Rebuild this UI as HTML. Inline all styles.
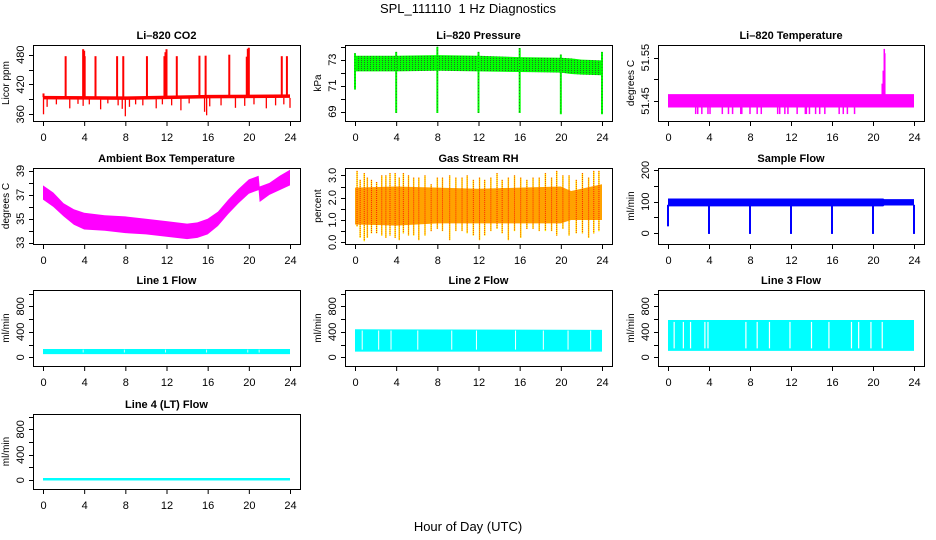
<!DOCTYPE html>
<html><head><meta charset="utf-8"><title>SPL_111110 1 Hz Diagnostics</title>
<style>
html,body{margin:0;padding:0;background:#fff;}
svg{display:block;font-family:"Liberation Sans",Arial,sans-serif;}
</style></head>
<body>
<svg id="chart" width="936" height="540" viewBox="0 0 936 540">
<defs>
<pattern id="pdots" width="3" height="2" patternUnits="userSpaceOnUse"><rect width="3" height="2" fill="#00ff00"/><rect x="1" y="0" width="1" height="1" fill="#2a6a2a"/></pattern>
</defs>
<text x="468" y="13" text-anchor="middle" font-size="13">SPL_111110&#160;&#160;1 Hz Diagnostics</text>
<text x="468" y="531" text-anchor="middle" font-size="13">Hour of Day (UTC)</text>
</svg>
<script>
// ---- data ----
const xTicks = [0,4,8,12,16,20,24];
// CO2
const co2BandT = [0,8,16,24];
const co2BandLo = [390,389,392,393];
const co2BandHi = [397,396,399,400];
const co2UpT = [0.05,2.2,3.9,4.0,4.05,5.1,7.2,7.8,10.1,11.8,11.9,12.0,13.0,15.2,15.8,18.1,19.8,19.9,20.0,23.2,23.7];
const co2UpV = [402,477,491,488,477,477,477,477,477,477,485,491,477,478,478,480,476,492,494,477,477];
const co2DnT = [0.05,0.4,1.3,2.6,3.4,3.9,4.5,5.6,6.3,7.3,7.7,8.0,8.4,9.0,9.7,11.0,11.6,12.5,13.4,14.2,15.7,15.9,16.2,17.3,18.7,19.6,20.5,21.7,22.6,23.4,24.0];
const co2DnV = [360,375,380,372,381,377,380,370,382,378,371,356,375,380,378,372,380,378,368,382,365,358,376,378,373,377,380,372,378,380,373];
// Pressure
const prBandT = [0,4,8,12,16,20,21,22,24];
const prBandHi = [73.3,73.3,73.35,73.3,73.2,73.15,73.1,73.0,72.95];
const prBandLo = [72.1,72.1,72.15,72.1,72.05,72.0,71.9,71.85,71.8];
const prDipT = [0,4,8,12,16,20,24];
const prDipLo = [70.7,68.9,68.9,68.9,68.9,68.8,68.8];
const prDipHi = [73.5,73.6,74.0,73.6,73.9,73.4,73.6];
// Li-820 temperature
const tmBandT = [0,24];
const tmBandLo = [51.435,51.435];
const tmBandHi = [51.466,51.466];
const tmDipT = [2.7,2.9,3.3,3.9,4.1,5.3,5.9,6.3,7.1,7.2,8.0,8.7,9.1,10.7,10.9,11.4,11.7,12.6,13.4,13.5,13.8,14.4,14.8,15.3,16.7,17.1,17.5,18.2];
const tmDipV = 51.42;
const tmSpikeT = [20.9,21.0,21.1,21.15];
const tmSpikeV = [51.49,51.52,51.57,51.56];
// Ambient box temperature
const amT = [0,1,2,3,4,6,8,10,12,14,15,16,17,18,19,20,20.95,21.05,22,23,24];
const amHi = [37.8,37.2,36.3,35.8,35.5,35.3,35.2,35.0,34.8,34.6,34.7,35.0,35.6,36.6,37.5,38.3,38.6,37.7,38.0,38.6,39.1];
const amLo = [36.6,36.0,35.2,34.5,34.1,34.0,33.8,33.7,33.5,33.3,33.4,33.7,34.4,35.4,36.3,37.1,37.4,36.4,37.0,37.4,37.8];
// Gas stream RH
const rhBandT = [0,4,8,12,16,20,21,24];
const rhBandHi = [2.45,2.5,2.45,2.4,2.45,2.5,2.3,2.6];
const rhBandLo = [0.8,0.75,0.85,0.85,0.85,0.85,1.0,1.0];
const rhSpT = [0.2,0.5,0.9,1.2,1.6,2.1,2.6,3.0,3.4,3.9,4.3,4.7,5.2,5.7,6.2,6.8,7.4,8.0,8.5,9.2,9.8,10.4,10.9,11.5,12.1,12.6,13.2,13.8,14.3,14.9,15.5,16.1,16.7,17.3,17.9,18.5,19.1,19.6,20.2,20.8,21.5,22.1,22.7,23.2,23.7];
const rhSpHi = [3.2,2.8,3.1,2.9,2.8,2.7,3.0,3.0,3.1,3.1,2.9,3.1,3.0,2.9,2.9,3.0,2.6,2.9,2.9,3.0,2.9,2.9,3.0,2.8,2.9,2.8,2.9,3.1,2.8,2.9,3.0,2.9,2.8,2.9,2.9,3.1,2.9,3.2,3.0,3.0,2.8,3.1,2.9,3.2,3.2];
const rhSpLo = [0.7,0.2,0.05,0.2,0.4,0.4,0.3,0.2,0.3,0.2,0.1,0.4,0.3,0.3,0.1,0.3,0.5,0.6,0.5,0.1,0.5,0.5,0.4,0.3,0.1,0.3,0.5,0.6,0.4,0.1,0.5,0.2,0.6,0.6,0.5,0.5,0.5,0.3,0.6,0.3,0.4,0.4,0.2,0.4,0.5];
// Sample flow
const sfBandT = [0,21,21.1,24];
const sfBandHi = [110,110,108,108];
const sfBandLo = [85,85,88,88];
const sfDipT = [0,4,8,12,16,20,24];
const sfDipV = [22,-2,-2,-2,-2,-2,-2];
// Line flows
const l1BandT = [0,24]; const l1Lo = [50,50]; const l1Hi = [130,130];
const l1Gaps = [3.9,7.9,11.9,15.9,19.9,21.0];
const l2BandT = [0,24]; const l2Lo = [90,90]; const l2Hi = [440,430];
const l2Gaps = [0.7,2.3,3.5,6.1,9.4,11.8,15.6,18.3,20.7,22.9];
const l3BandT = [0,24]; const l3Lo = [100,100]; const l3Hi = [585,585];
const l3Gaps = [0.6,1.5,2.2,3.6,3.9,7.6,8.7,9.9,11.9,14.0,15.7,17.9,18.6,19.8,20.9];
const l4BandT = [0,24]; const l4Lo = [-5,-5]; const l4Hi = [35,35];

// ---- drawing ----
const NS = "http://www.w3.org/2000/svg";
const svg = document.getElementById('chart');
function mk(tag, attrs, parent){ const e=document.createElementNS(NS,tag); for(const k in attrs) e.setAttribute(k,attrs[k]); (parent||svg).appendChild(e); return e; }

function makePanel(name, title, ylab, box, ylim, yTicks, yLabels){
  const g = mk('g',{});
  
  
  const [x0,y0,x1,y1] = box;
  const sx = t => x0 + 10 + t/24*(x1-x0-20);
  const sy = v => y0 + (ylim[0]-v)/(ylim[0]-ylim[1])*(y1-y0);
  const plot = mk('g',{},g);
  
  
  const fr = mk('rect',{x:x0+0.5,y:y0+0.5,width:x1-x0,height:y1-y0,fill:'none',stroke:'#000','stroke-width':1},g);
  
  
  const tt = mk('text',{x:(x0+x1)/2,y:y0-6,'text-anchor':'middle','font-size':11,'font-weight':'bold'},g);
  tt.textContent = title;
  
  
  const xa = mk('g',{},g);
  
  
  mk('line',{x1:sx(0),x2:sx(24),y1:y1+0.5,y2:y1+0.5,stroke:'#000'},xa);
  xTicks.forEach(t=>{
    mk('line',{x1:sx(t)+0.5,x2:sx(t)+0.5,y1:y1,y2:y1+5,stroke:'#000'},xa);
    const l = mk('text',{x:sx(t)+0.5,y:y1+20,'text-anchor':'middle','font-size':11},xa);
    l.textContent = t;
    
    
  });
  const ya = mk('g',{},g);
  
  
  mk('line',{x1:x0+0.5,x2:x0+0.5,y1:sy(yTicks[0]),y2:sy(yTicks[yTicks.length-1]),stroke:'#000'},ya);
  yTicks.forEach(v=>{ mk('line',{x1:x0-4,x2:x0,y1:Math.round(sy(v))+0.5,y2:Math.round(sy(v))+0.5,stroke:'#000'},ya); });
  yLabels.forEach(v=>{
    const yy = sy(parseFloat(v));
    const l = mk('text',{x:x0-9,y:yy,'text-anchor':'middle','font-size':11,transform:`rotate(-90 ${x0-9} ${yy})`},ya);
    l.textContent = v;
    
    
  });
  const yt = mk('text',{x:x0-24,y:(y0+y1)/2,'text-anchor':'middle','font-size':10,transform:`rotate(-90 ${x0-24} ${(y0+y1)/2})`},g);
  yt.textContent = ylab;
  
  
  return {plot, sx, sy};
}
function band(p, T, lo, hi, fill, name){
  let d = 'M' + T.map((t,i)=>p.sx(t)+','+p.sy(hi[i])).join(' L');
  for(let i=T.length-1;i>=0;i--) d += ' L'+p.sx(T[i])+','+p.sy(lo[i]);
  const e = mk('path',{d:d+'Z',fill:fill},p.plot);
  
  
  return e;
}
function vline(p, t, a, b, color, w, name, dash){
  const e = mk('line',{x1:p.sx(t),x2:p.sx(t),y1:p.sy(a),y2:p.sy(b),stroke:color,'stroke-width':w},p.plot);
  if(dash) e.setAttribute('stroke-dasharray', dash);
  
  
}
const C1=[33,300], C2=[345,612], C3=[658,924];
const R1=[45,121], R2=[168,244], R3=[290,366], R4=[414,489];

// CO2
let p = makePanel('co2','Li\u2013820 CO2','Licor ppm',[C1[0],R1[0],C1[1],R1[1]],[499.5,346.5],[360,390,420,450,480],['360','420','480']);
band(p,co2BandT,co2BandLo,co2BandHi,'#ff0000','co2-band');
co2UpT.forEach((t,i)=>vline(p,t,394,co2UpV[i],'#ff0000',2,'co2-spike-up'));
co2DnT.forEach((t,i)=>vline(p,t,393,co2DnV[i],'#ff0000',1.3,'co2-spike-down'));

// Pressure
p = makePanel('pressure','Li\u2013820 Pressure','kPa',[C2[0],R1[0],C2[1],R1[1]],[74.13,68.28],[69,70,71,72,73,74],['69','71','73']);
band(p,prBandT,prBandLo,prBandHi,'url(#pdots)','pressure-band');
prDipT.forEach((t,i)=>{vline(p,t,prDipHi[i],prDipLo[i],'#00ff00',2,'pressure-dip'); vline(p,t,prDipHi[i],prDipLo[i],'#224422',0.6,'pressure-dip-dots','1,2');});

// Li-820 Temperature
p = makePanel('li820-temp','Li\u2013820 Temperature','degrees C',[C3[0],R1[0],C3[1],R1[1]],[51.579,51.404],[51.45,51.50,51.55],['51.45','51.55']);
band(p,tmBandT,tmBandLo,tmBandHi,'#ff00ff','temp-band');
tmDipT.forEach(t=>vline(p,t,51.44,tmDipV,'#ff00ff',1.5,'temp-dip'));
tmSpikeT.forEach((t,i)=>vline(p,t,51.45,tmSpikeV[i],'#ff00ff',1.5,'temp-spike'));

// Ambient
p = makePanel('ambient-temp','Ambient Box Temperature','degrees C',[C1[0],R2[0],C1[1],R2[1]],[39.25,32.89],[33,34,35,36,37,38,39],['33','35','37','39']);
band(p,amT,amLo,amHi,'#ff00ff','ambient-band');

// RH
p = makePanel('gas-rh','Gas Stream RH','percent',[C2[0],R2[0],C2[1],R2[1]],[3.33,-0.076],[0,0.5,1,1.5,2,2.5,3],['0.0','1.0','2.0','3.0']);
rhSpT.forEach((t,i)=>{vline(p,t,rhSpHi[i],rhSpLo[i],'#ffff00',1.5,'rh-spike');});
band(p,rhBandT,rhBandLo,rhBandHi,'#ffa200','rh-band');
rhSpT.forEach((t,i)=>{vline(p,t,rhSpHi[i],rhSpLo[i],'#ff2000',1,'rh-spike-red','1,1');});

// Sample flow
p = makePanel('sample-flow','Sample Flow','ml/min',[C3[0],R2[0],C3[1],R2[1]],[206.3,-33.8],[0,50,100,150,200],['0','100','200']);
band(p,sfBandT,sfBandLo,sfBandHi,'#0000ff','sample-band');
sfDipT.forEach((t,i)=>vline(p,t,90,sfDipV[i],'#0000ff',2,'sample-dip'));

const lt=[0,200,400,600,800,1000], ll=['0','400','800'];
p = makePanel('line1-flow','Line 1 Flow','ml/min',[C1[0],R3[0],C1[1],R3[1]],[1056,-136.5],lt,ll);
band(p,l1BandT,l1Lo,l1Hi,'#00ffff','line1-band');
l1Gaps.forEach(t=>vline(p,t,l1Hi[0]-10,l1Lo[0]+25,'#ffffff',0.8,'line1-gap'));
p = makePanel('line2-flow','Line 2 Flow','ml/min',[C2[0],R3[0],C2[1],R3[1]],[1056,-136.5],lt,ll);
band(p,l2BandT,l2Lo,l2Hi,'#00ffff','line2-band');
l2Gaps.forEach(t=>vline(p,t,l2Hi[0]-20,l2Lo[0]+30,'#ffffff',1,'line2-gap'));
p = makePanel('line3-flow','Line 3 Flow','ml/min',[C3[0],R3[0],C3[1],R3[1]],[1056,-136.5],lt,ll);
band(p,l3BandT,l3Lo,l3Hi,'#00ffff','line3-band');
l3Gaps.forEach(t=>vline(p,t,l3Hi[0]-30,l3Lo[0]+40,'#ffffff',1.2,'line3-gap'));
p = makePanel('line4-flow','Line 4 (LT) Flow','ml/min',[C1[0],R4[0],C1[1],R4[1]],[1040,-138],lt,ll);
band(p,l4BandT,l4Lo,l4Hi,'#00ffff','line4-band');
</script>
</body></html>
